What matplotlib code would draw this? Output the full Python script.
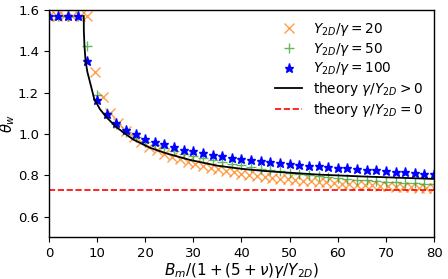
import numpy as np
import matplotlib
matplotlib.use("Agg")
import matplotlib.pyplot as plt

# valores
x_20 = np.arange(0, 80.01, 1.6)
theta_20 = [1.571, 1.571, 1.571, 1.571, 1.571, 1.571, 1.300, 1.177, 1.100, 1.052,
            1.015, 0.985, 0.960, 0.938, 0.920, 0.904, 0.890, 0.877, 0.865, 0.855,
            0.845, 0.836, 0.828, 0.821, 0.814, 0.808, 0.802, 0.797, 0.792, 0.788,
            0.784, 0.780, 0.777, 0.774, 0.771, 0.768, 0.765, 0.762, 0.759, 0.757,
            0.755, 0.753, 0.751, 0.749, 0.747, 0.745, 0.743, 0.742, 0.740, 0.739,
            0.737]

x_50 = np.arange(0, 80.01, 2)
theta_50 = [1.571, 1.571, 1.571, 1.571, 1.425, 1.190, 1.100, 1.050, 1.010, 0.985,
            0.962, 0.945, 0.932, 0.918, 0.905, 0.895, 0.885, 0.875, 0.865, 0.856,
            0.848, 0.840, 0.832, 0.826, 0.820, 0.813, 0.807, 0.802, 0.797, 0.792,
            0.787, 0.782, 0.778, 0.775, 0.772, 0.769, 0.766, 0.763, 0.761, 0.758,
            0.756]

x_100 = np.arange(0, 80.01, 2)
theta_100 = [1.571, 1.571, 1.571, 1.571, 1.355, 1.165, 1.095, 1.055, 1.018, 0.998,
             0.977, 0.960, 0.949, 0.937, 0.924, 0.916, 0.908, 0.900, 0.892, 0.884,
             0.879, 0.872, 0.867, 0.862, 0.857, 0.855, 0.850, 0.846, 0.843, 0.840,
             0.837, 0.833, 0.830, 0.825, 0.823, 0.820, 0.817, 0.814, 0.811, 0.807,
             0.805]

x_teoria = [7.25, 7.27, 7.4, 7.62, 8.0, 8.5, 9.42, 10.6, 12.0, 14.0, 17.5, 21.0,
            24.5, 29.3, 35.0, 40.0, 45.0, 50.0, 56.0, 60.0, 65.0, 70.0, 75.0, 80.0]
theta_teoria = [1.571, 1.50, 1.425, 1.355, 1.300, 1.255, 1.170, 1.120, 1.080, 1.033,
                0.973, 0.933, 0.905, 0.874, 0.846, 0.831, 0.820, 0.812, 0.803,
                0.799, 0.794, 0.790, 0.786, 0.782]

theta_zero = 0.727

plt.rcParams['font.size'] = 9.5
fig = plt.figure(figsize=(4.48, 2.79), dpi=100)
ax = fig.add_axes([0.109, 0.15, 0.86, 0.814])

ax.plot(x_20, theta_20, 'x', color='#ff7f0e', alpha=0.75, markersize=7,
        linestyle='none', label=r'$Y_{2D}/\gamma=20$')
ax.plot(x_50, theta_50, '+', color='#2ca02c', alpha=0.75, markersize=7,
        linestyle='none', label=r'$Y_{2D}/\gamma=50$')
ax.plot(x_100, theta_100, '*', color='blue', markersize=6.5,
        linestyle='none', label=r'$Y_{2D}/\gamma=100$')
ax.plot(x_teoria, theta_teoria, '-', color='black', linewidth=1.3,
        label=r'theory $\gamma/Y_{2D}>0$')
ax.plot([0, 80], [theta_zero, theta_zero], '--', color='red', linewidth=1.2,
        label=r'theory $\gamma/Y_{2D}=0$')

ax.set_xlim(0, 80)
ax.set_ylim(0.5, 1.6)
ax.set_xticks(np.arange(0, 81, 10))
ax.set_yticks([0.6, 0.8, 1.0, 1.2, 1.4, 1.6])
ax.set_xlabel(r'$B_m/(1+(5+\nu)\gamma/Y_{2D})$', fontsize=11, labelpad=1)
ax.set_ylabel(r'$\theta_w$', fontsize=10.5)
ax.yaxis.set_label_coords(-0.082, 0.5)

ax.legend(loc='upper right', frameon=False, fontsize=9.8, labelspacing=0.2,
          borderaxespad=0.4)

for spine in ax.spines.values():
    spine.set_linewidth(1.0)

fig.savefig('out.png', dpi=100)
plt.close()
